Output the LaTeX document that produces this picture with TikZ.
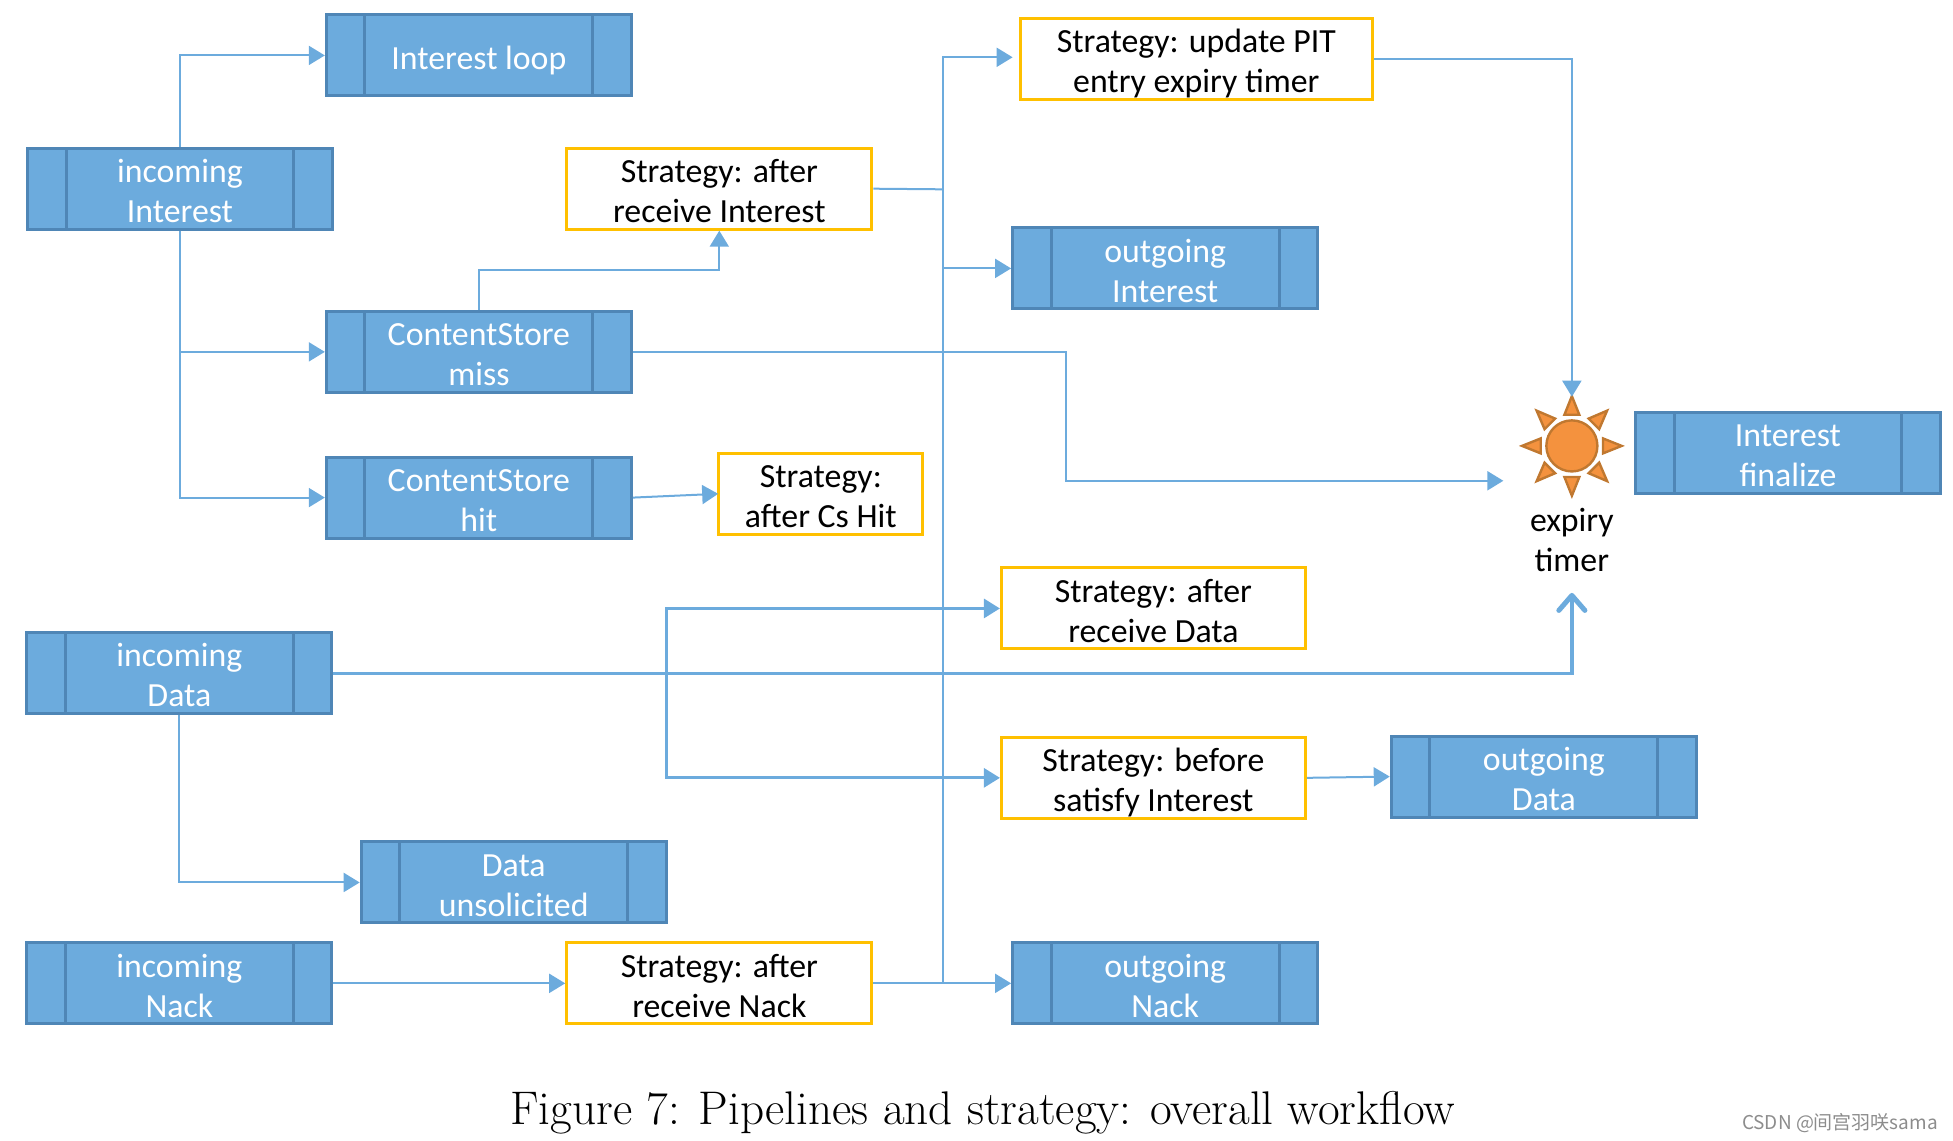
\documentclass[tikz,border=0pt]{standalone}
\usepackage{fontspec}
\setmainfont{Carlito}
\newfontfamily\lmfont{Latin Modern Roman}
\newfontfamily\cjkfont{Noto Sans CJK SC}
\usetikzlibrary{arrows.meta,calc}
\definecolor{procfill}{HTML}{6CABDD}
\definecolor{procline}{HTML}{4F86B6}
\definecolor{stratline}{HTML}{FFC000}
\definecolor{conn}{HTML}{6CABDD}
\definecolor{sunfill}{HTML}{F4923E}
\definecolor{sunline}{HTML}{C07830}
\def\uu{1.2455pt}
\tikzset{
  x=1.2455pt,y=-1.2455pt,
  textdrop/.style={text height=#1,text depth=0pt},
  labeltext/.style={font=\fontsize{33.8}{40}\selectfont,align=center,inner sep=0pt},
  procbox/.style={labeltext,textdrop=67.5pt,draw=procline,fill=procfill,line width=3pt,text=white,
    minimum width=245*\uu,minimum height=65*\uu,
    path picture={
      \draw[procline,line width=3pt]
        ([xshift=31*\uu]path picture bounding box.north west) -- ([xshift=31*\uu]path picture bounding box.south west)
        ([xshift=-31*\uu]path picture bounding box.north east) -- ([xshift=-31*\uu]path picture bounding box.south east);
    }},
  stratbox/.style={labeltext,textdrop=67.5pt,draw=stratline,fill=white,line width=3pt,text=black,minimum height=65*\uu},
  link/.style={draw=conn,line width=2pt,-{Triangle[length=16pt,width=19pt]}},
  plainlink/.style={draw=conn,line width=2pt},
  heavylink/.style={draw=conn,line width=3pt,-{Triangle[length=16pt,width=19pt]}},
  barblink/.style={draw=conn,line width=3.4pt,-{Straight Barb[length=15pt,width=26pt,line width=5pt,round]}},
  sunray/.style={fill=sunfill,draw=sunline,line width=2.4pt,line join=miter},
}
\begin{document}
\begin{tikzpicture}
\useasboundingbox (0,0) rectangle (1568,916);
% pipelines
\node[procbox,textdrop=29pt] (loop) at (384.5,44.5) {Interest loop};
\node[procbox] (inI) at (144.5,151.5) {incoming\\Interest};
\node[procbox] (miss) at (384.5,282.5) {ContentStore\\miss};
\node[procbox] (hit) at (384.5,399.5) {ContentStore\\hit};
\node[procbox] (inD) at (144,540.5) {incoming\\Data};
\node[procbox] (unsol) at (412.5,708.5) {Data\\unsolicited};
\node[procbox] (inN) at (144,789.5) {incoming\\Nack};
\node[procbox] (outI) at (935.5,215.5) {outgoing\\Interest};
\node[procbox] (outN) at (935.5,789.5) {outgoing\\Nack};
\node[procbox] (outD) at (1239.5,623.5) {outgoing\\Data};
\node[procbox] (final) at (1435.5,363.5) {Interest\\finalize};
% strategies
\node[stratbox,minimum width=283*\uu] (pit) at (960.5,47) {Strategy: update PIT\\entry expiry timer};
\node[stratbox,minimum width=245*\uu] (sI) at (577.5,151.5) {Strategy: after\\receive Interest};
\node[stratbox,minimum width=164*\uu] (sH) at (659,396.5) {Strategy:\\after Cs Hit};
\node[stratbox,minimum width=244*\uu] (sD) at (926,488.5) {Strategy: after\\receive Data};
\node[stratbox,minimum width=244*\uu] (sB) at (926,624.5) {Strategy: before\\satisfy Interest};
\node[stratbox,minimum width=245*\uu] (sN) at (577.5,789.5) {Strategy: after\\receive Nack};
% sun
\foreach \a in {0,45,...,315}
  \draw[sunray,shift={(1262,358)},rotate=\a] (25,-6) -- (40,0) -- (25,6) -- cycle;
\node[circle,draw=sunline,fill=sunfill,line width=2.4pt,minimum size=41*\uu,inner sep=0pt] (sun) at (1262,358) {};
\node[labeltext] (timer) at (1262,433.5) {expiry\\timer};
% free ends and junctions
\coordinate (sunTop) at (1262,318.5);
\coordinate (timerIn) at (1207,386);
\coordinate (timerUp) at (1262,476);
\coordinate (busTop) at (757,152);
\coordinate (busBot) at (757,789.5);
\coordinate (dataBus) at (535,541);
\coordinate (missBend) at (856,282.5);
\coordinate (pitIn) at (813,46);
\coordinate (sIin) at (384.5,217);
% connectors
\draw[link] (inI.north) |- (loop.west);
\draw[link] (inI.south) |- (miss.west);
\draw[link] (inI.south) |- (hit.west);
\draw[link] (miss.north) -- (sIin) -| (sI.south);
\draw[plainlink] (sI.east) -- (busTop);
\draw[link] (busTop) |- (pitIn);
\draw[link] (busTop) |- (outI.west);
\draw[plainlink] (busBot) -- (busTop);
\draw[link] (pit.east) -| (sunTop);
\draw[link] (miss.east) -- (missBend) |- (timerIn);
\draw[link,shorten >=-1pt] (hit.east) -- (sH.west);
\draw[barblink] (inD.east) -| (timerUp);
\draw[heavylink] (dataBus) |- (sD.west);
\draw[heavylink] (dataBus) |- (sB.west);
\draw[link] (sB.east) -- (outD.west);
\draw[link] (inD.south) |- (unsol.west);
\draw[link] (inN.east) -- (sN.west);
\draw[link] (sN.east) -- (outN.west);
% caption and mark
\node[inner sep=0pt,anchor=base,font=\lmfont\fontsize{47.2}{56}\selectfont] (cap) at (789,902.5) {Figure 7: Pipelines and strategy: overall workflow};
\node[inner sep=0pt,anchor=base east,text=black!45,font=\cjkfont\fontsize{19}{23}\selectfont] (mark) at (1556,907) {CSDN @间宫羽咲sama};
\end{tikzpicture}
\end{document}
